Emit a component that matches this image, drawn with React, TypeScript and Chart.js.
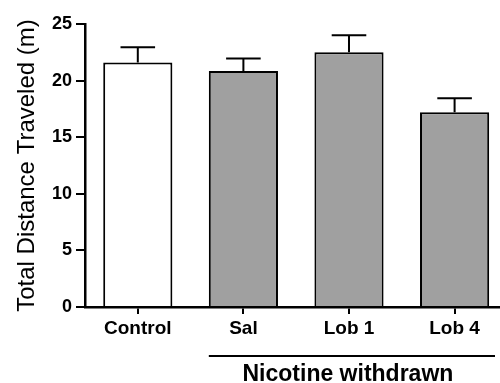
import React, { useEffect, useRef } from "react";
import { Chart, registerables } from "chart.js";

Chart.register(...registerables);

const categories = ["Control", "Sal", "Lob 1", "Lob 4"];
const means = [21.6, 20.85, 22.5, 17.2];
const sems = [1.35, 1.1, 1.5, 1.25];
const fills = ["#ffffff", "#a0a0a0", "#a0a0a0", "#a0a0a0"];
const yTicks = [0, 5, 10, 15, 20, 25];
const yTitle = "Total Distance Traveled (m)";
const groupLabel = "Nicotine withdrawn";
const groupStart = 1; // first category under the bracket

const FONT = "'Liberation Sans', Arial, Helvetica, sans-serif";

const errorBarPlugin = {
  id: "errorBars",
  afterDatasetsDraw(chart: any) {
    const meta = chart.getDatasetMeta(0);
    const yScale = chart.scales.y;
    const ctx = chart.ctx;
    ctx.save();
    ctx.strokeStyle = "#000";
    ctx.lineWidth = 2;
    meta.data.forEach((el: any, i: number) => {
      const top = yScale.getPixelForValue(means[i]);
      const errY = yScale.getPixelForValue(means[i] + sems[i]);
      const half = el.width / 4;
      ctx.beginPath();
      ctx.moveTo(el.x, top);
      ctx.lineTo(el.x, errY);
      ctx.moveTo(el.x - half, errY);
      ctx.lineTo(el.x + half, errY);
      ctx.stroke();
    });
    ctx.restore();
  },
};

const bracketPlugin = {
  id: "bracket",
  afterDraw(chart: any) {
    const meta = chart.getDatasetMeta(0);
    const el = meta.data[groupStart];
    const ctx = chart.ctx;
    const area = chart.chartArea;
    const x1 = el.x - el.width / 2;
    const x2 = area.right - 5;
    const y = area.bottom + 49;
    ctx.save();
    ctx.strokeStyle = "#000";
    ctx.lineWidth = 2;
    ctx.beginPath();
    ctx.moveTo(x1, y);
    ctx.lineTo(x2, y);
    ctx.stroke();
    ctx.fillStyle = "#000";
    ctx.font = `bold 23px ${FONT}`;
    ctx.textAlign = "center";
    ctx.textBaseline = "alphabetic";
    ctx.fillText(groupLabel, (x1 + x2) / 2 - 4, y + 25);
    ctx.restore();
  },
};

export default function App() {
  const ref = useRef<HTMLCanvasElement | null>(null);

  useEffect(() => {
    if (!ref.current) return;
    const chart = new Chart(ref.current, {
      type: "bar",
      data: {
        datasets: [
          {
            data: means.map((v, i) => ({ x: i, y: v })),
            backgroundColor: fills,
            borderColor: "#000",
            borderWidth: 2,
            barPercentage: 0.655,
            categoryPercentage: 1,
          },
        ],
      },
      options: {
        responsive: false,
        animation: false,
        layout: { padding: { top: 24, right: 0, left: 0, bottom: 0 } },
        plugins: { legend: { display: false }, tooltip: { enabled: false } },
        scales: {
          x: {
            type: "linear",
            min: -0.5,
            max: 3.43,
            offset: false,
            afterFit(scale: any) {
              scale.height = 76;
            },
            afterBuildTicks(scale: any) {
              scale.ticks = categories.map((_, i) => ({ value: i }));
            },
            ticks: {
              includeBounds: false,
              stepSize: 1,
              color: "#000",
              font: { family: FONT, size: 19, weight: "bold" },
              padding: 3,
              maxRotation: 0,
              autoSkip: false,
              callback: (v: any) => categories[v as number] ?? "",
            },
            grid: {
              offset: false,
              drawOnChartArea: false,
              drawTicks: true,
              tickLength: 7,
              color: "#000",
              lineWidth: 2,
            },
            border: { display: true, color: "#000", width: 2.5 },
          },
          y: {
            min: 0,
            max: 25,
            afterFit(scale: any) {
              scale.width = 85;
            },
            afterBuildTicks(scale: any) {
              scale.ticks = yTicks.map((v) => ({ value: v }));
            },
            ticks: {
              color: "#000",
              font: { family: FONT, size: 18, weight: "bold" },
              padding: 4,
            },
            grid: {
              drawOnChartArea: false,
              drawTicks: true,
              tickLength: 9,
              color: "#000",
              lineWidth: 2,
            },
            border: { display: true, color: "#000", width: 2.5 },
            title: {
              display: true,
              text: yTitle,
              color: "#000",
              font: { family: FONT, size: 24, weight: "normal" },
              padding: { top: 13, bottom: 0 },
            },
          },
        },
      },
      plugins: [errorBarPlugin, bracketPlugin],
    } as any);
    return () => chart.destroy();
  }, []);

  return (
    <div style={{ position: "absolute", left: 0, top: 0, width: 500, height: 383 }}>
      <canvas ref={ref} width={500} height={383} style={{ display: "block" }} />
    </div>
  );
}
